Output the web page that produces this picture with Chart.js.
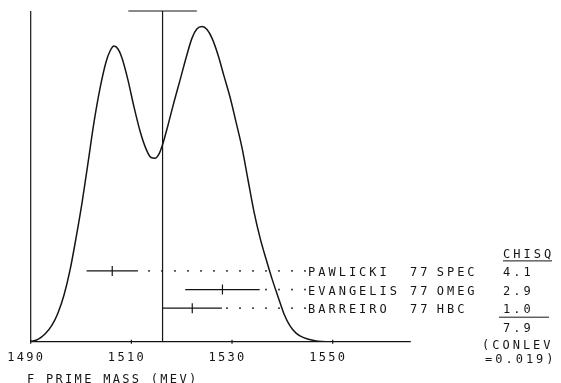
<!DOCTYPE html>
<html>
<head>
<meta charset="utf-8">
<script src="https://cdn.jsdelivr.net/npm/chart.js@4/dist/chart.umd.min.js"></script>
<style>
  html, body { margin: 0; padding: 0; background: #fff; }
  #wrap { width: 561px; height: 383px; position: relative; }
</style>
</head>
<body>
<div id="wrap"><canvas id="ideogram"></canvas></div>
<script>
// Ideogram curve (mass in MeV, relative height)
const curveMass = [1490.0, 1491.45, 1492.84, 1494.23, 1495.42, 1496.62, 1497.82, 1499.01, 1500.19, 1501.38,
  1502.58, 1503.78, 1504.97, 1505.77, 1506.55, 1507.35, 1508.14, 1509.33, 1510.52, 1511.72,
  1512.91, 1513.9, 1514.7, 1515.5, 1516.3, 1517.28, 1518.47, 1519.67, 1520.86, 1522.05,
  1523.04, 1524.04, 1525.03, 1526.02, 1527.22, 1528.41, 1529.6, 1530.8, 1531.99, 1533.18,
  1534.38, 1535.57, 1536.76, 1537.95, 1539.14, 1540.33, 1541.52, 1542.72, 1544.11, 1546.49,
  1549.47, 1565.5];
const curveHeight = [0.000, 0.007, 0.023, 0.050, 0.087, 0.141, 0.217, 0.314, 0.419, 0.540,
  0.664, 0.767, 0.846, 0.879, 0.894, 0.885, 0.858, 0.791, 0.710, 0.637,
  0.583, 0.557, 0.555, 0.568, 0.601, 0.655, 0.725, 0.791, 0.858, 0.918,
  0.946, 0.953, 0.944, 0.918, 0.867, 0.803, 0.740, 0.664, 0.586, 0.489,
  0.392, 0.314, 0.250, 0.190, 0.136, 0.084, 0.048, 0.026, 0.013, 0.003,
  0.000, 0.000];

// Measurements
const experiments = ['PAWLICKI', 'EVANGELIS', 'BARREIRO'];
const years = ['77', '77', '77'];
const techniques = ['SPEC', 'OMEG', 'HBC'];
const masses = [1506.2, 1528.1, 1522.1];
const errors = [5.1, 7.4, 5.9];
const chisq = ['4.1', '2.9', '1.0'];
const chisqTotal = '7.9';
const conlev = '0.019';

// Weighted mean and its (scaled) error
const meanMass = 1516.2;
const meanError = 6.8;

const xTicks = [1490, 1510, 1530, 1550];
const xTitle = 'F PRIME MASS (MEV)';

const ink = '#151515';
const mono = '"DejaVu Sans Mono", "Liberation Mono", monospace';

// Error bar datasets (one per measurement), on the row axis
const barSets = masses.map((m, i) => ({
  data: [{ x: m - errors[i], y: i }, { x: m + errors[i], y: i }],
  yAxisID: 'yRows',
  borderColor: ink,
  borderWidth: 1.2,
  pointRadius: 0,
  tension: 0
}));

const textPlugin = {
  id: 'plotText',
  afterDraw(chart) {
    const ctx = chart.ctx;
    const xs = chart.scales.x;
    const rows = chart.scales.yRows;
    const area = chart.chartArea;
    ctx.save();
    ctx.strokeStyle = ink;
    ctx.fillStyle = ink;

    // axes
    ctx.lineWidth = 1.2;
    ctx.beginPath();
    ctx.moveTo(area.left, area.top);
    ctx.lineTo(area.left, area.bottom);
    ctx.lineTo(area.right, area.bottom);
    ctx.stroke();

    // tick marks + labels
    ctx.font = '12px ' + mono;
    ctx.letterSpacing = '2.3px';
    ctx.textAlign = 'left';
    ctx.textBaseline = 'alphabetic';
    xTicks.forEach(t => {
      const px = xs.getPixelForValue(t);
      ctx.beginPath();
      ctx.moveTo(px, area.bottom - 2);
      ctx.lineTo(px, area.bottom + 2);
      ctx.stroke();
      ctx.fillText(String(t), px - 23.5, 360.7);
    });
    ctx.fillText(xTitle, 27, 382.5);

    // dotted leaders and labels
    const labelX = 308;
    ctx.letterSpacing = '3px';
    experiments.forEach((name, i) => {
      const py = rows.getPixelForValue(i);
      const start = xs.getPixelForValue(masses[i] + errors[i]) + 3;
      for (let dx = labelX - 3; dx > start; dx -= 13) {
        ctx.fillRect(dx - 0.8, py - 0.8, 1.6, 1.6);
      }
      ctx.fillText(name, labelX, py + 5);
      ctx.fillText(years[i], 410, py + 5);
      ctx.fillText(techniques[i], 436.7, py + 5);
      ctx.fillText(chisq[i], 503, py + 5);
    });

    // chi-square column
    const r0 = rows.getPixelForValue(0);
    ctx.fillText('CHISQ', 503, r0 - 12.5);
    ctx.lineWidth = 1;
    ctx.beginPath();
    ctx.moveTo(503, r0 - 10);
    ctx.lineTo(552, r0 - 10);
    ctx.moveTo(499, r0 + 46.3);
    ctx.lineTo(549, r0 + 46.3);
    ctx.stroke();
    ctx.fillText(chisqTotal, 503, rows.getPixelForValue(3) + 5);
    ctx.fillText('(CONLEV', 482, rows.getPixelForValue(3.9) + 5);
    ctx.fillText('=' + conlev + ')', 485, rows.getPixelForValue(4.7) + 5);
    ctx.restore();
  }
};

const ctx = document.getElementById('ideogram').getContext('2d');
new Chart(ctx, {
  type: 'line',
  data: {
    datasets: [
      {
        // ideogram
        data: curveMass.map((m, i) => ({ x: m, y: curveHeight[i] })),
        borderColor: ink,
        borderWidth: 1.5,
        pointRadius: 0,
        cubicInterpolationMode: 'monotone'
      },
      {
        // weighted mean line
        data: [{ x: meanMass, y: 0 }, { x: meanMass, y: 1 }],
        borderColor: ink,
        borderWidth: 1.2,
        pointRadius: 0,
        clip: false
      },
      {
        // error on the mean
        data: [{ x: meanMass - meanError, y: 1 }, { x: meanMass + meanError, y: 1 }],
        borderColor: ink,
        borderWidth: 1.2,
        pointRadius: 0,
        clip: false
      },
      ...barSets,
      {
        // central value ticks
        type: 'scatter',
        data: masses.map((m, i) => ({ x: m, y: i })),
        yAxisID: 'yRows',
        pointStyle: 'line',
        rotation: 90,
        radius: 5,
        borderColor: ink,
        borderWidth: 1.2,
        showLine: false
      }
    ]
  },
  options: {
    responsive: true,
    maintainAspectRatio: false,
    animation: false,
    layout: { padding: { left: 30.7, right: 150.3, top: 11, bottom: 41.3 } },
    plugins: { legend: { display: false }, tooltip: { enabled: false } },
    scales: {
      x: { type: 'linear', min: 1490, max: 1565.5, display: false },
      y: { type: 'linear', min: 0, max: 1, display: false },
      yRows: { type: 'linear', axis: 'y', min: -13.95, max: 3.8, reverse: true, display: false }
    }
  },
  plugins: [textPlugin]
});
</script>
</body>
</html>
